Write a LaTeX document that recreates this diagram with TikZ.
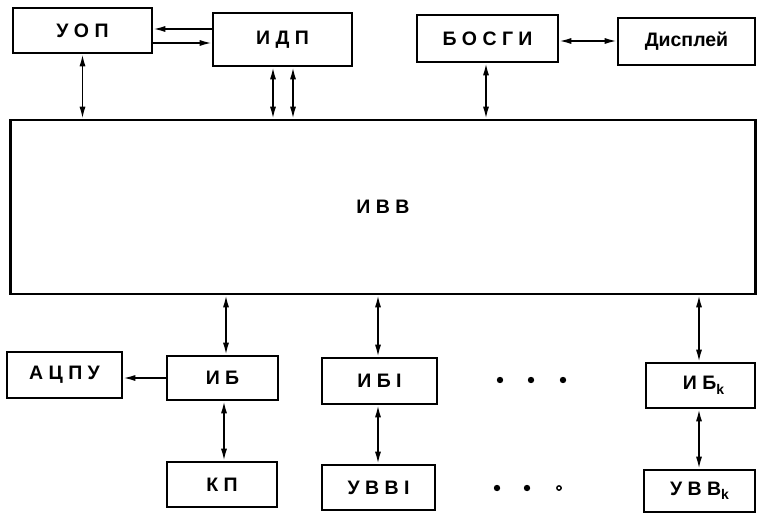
\documentclass[tikz,border=0pt]{standalone}
\usepackage{fontspec}
\setmainfont{Liberation Sans}
\usetikzlibrary{arrows.meta}
\newcommand\subk{\raisebox{-4.5pt}{\fontsize{14}{14}\selectfont k}}
\tikzset{
  box/.style={draw, line width=2.6pt, rectangle, inner sep=0pt, font=\bfseries\fontsize{19.5}{22}\selectfont},
  tip/.tip={Latex[length=12pt,width=6pt]},
  dbl/.style={line width=1.6pt, tip-tip},
  one/.style={line width=1.6pt, -tip},
}
\begin{document}
\begin{tikzpicture}[x=1pt,y=1pt]
\useasboundingbox (0,0) rectangle (758,-514);
% top row
\node[box, minimum width=139, minimum height=45] (uop) at (82.5,-30.5) {У О П};
\node[box, minimum width=139, minimum height=53] (idp) at (282.5,-39.5) {И Д П};
\node[box, minimum width=141, minimum height=47] (bosgi) at (487.5,-38.5) {Б О С Г И};
\node[box, minimum width=137, minimum height=47] (displ) at (686.5,-41.5) {Дисплей};
% main
\node[box, minimum width=745, minimum height=174] (ivv) at (383,-207) {И В В};
% bottom
\node[box, minimum width=115, minimum height=46] (acpu) at (64.5,-375) {А Ц П У};
\node[box, minimum width=111, minimum height=44] (ib) at (222.5,-378) {И Б};
\node[box, minimum width=110, minimum height=45] (kp) at (222,-484.5) {К П};
\node[box, minimum width=115, minimum height=46] (ib1) at (379.5,-381) {И Б I};
\node[box, minimum width=113, minimum height=45] (uvv1) at (378.5,-487.5) {У В В I};
\node[box, minimum width=109, minimum height=45] (ibk) at (700.5,-385.5) {\hspace{6pt}И Б\subk};
\node[box, minimum width=111, minimum height=42] (uvvk) at (699.5,-491) {У В В\subk};
% connectors top
\draw[dbl] (uop.south) -- (uop.south |- ivv.north);
\draw[one] ([yshift=10.5pt]idp.west) -- ([yshift=10.5pt]idp.west -| uop.east);
\draw[one] ([yshift=-3.5pt]idp.west -| uop.east) -- ([yshift=-3.5pt]idp.west);
\draw[dbl] ([xshift=-9.5pt]idp.south) -- ([xshift=-9.5pt]idp.south |- ivv.north);
\draw[dbl] ([xshift=10.5pt]idp.south) -- ([xshift=10.5pt]idp.south |- ivv.north);
\draw[dbl] ([yshift=-2.5pt]bosgi.east) -- ([yshift=-2.5pt]bosgi.east -| displ.west);
\draw[dbl] ([xshift=-1.5pt]bosgi.south) -- ([xshift=-1.5pt]bosgi.south |- ivv.north);
% connectors bottom
\draw[dbl] ([xshift=3.5pt]ib.north |- ivv.south) -- ([xshift=3.5pt]ib.north);
\draw[one] (ib.west) -- (ib.west -| acpu.east);
\draw[dbl] ([xshift=1.5pt]ib.south) -- ([xshift=1.5pt]ib.south |- kp.north);
\draw[dbl] ([xshift=-1.5pt]ib1.north |- ivv.south) -- ([xshift=-1.5pt]ib1.north);
\draw[dbl] ([xshift=-1.5pt]ib1.south) -- ([xshift=-1.5pt]ib1.south |- uvv1.north);
\draw[dbl] ([xshift=-1.5pt]ibk.north |- ivv.south) -- ([xshift=-1.5pt]ibk.north);
\draw[dbl] ([xshift=-1.5pt]ibk.south) -- ([xshift=-1.5pt]ibk.south |- uvvk.north);
% dots
\fill (500,-380) circle (3.2) (531,-380) circle (3.2) (563,-380) circle (3.2);
\fill (497,-488) circle (3.2) (527,-488) circle (3.2);
\draw[line width=1.4pt] (559,-488) circle (2.2);
\end{tikzpicture}
\end{document}
